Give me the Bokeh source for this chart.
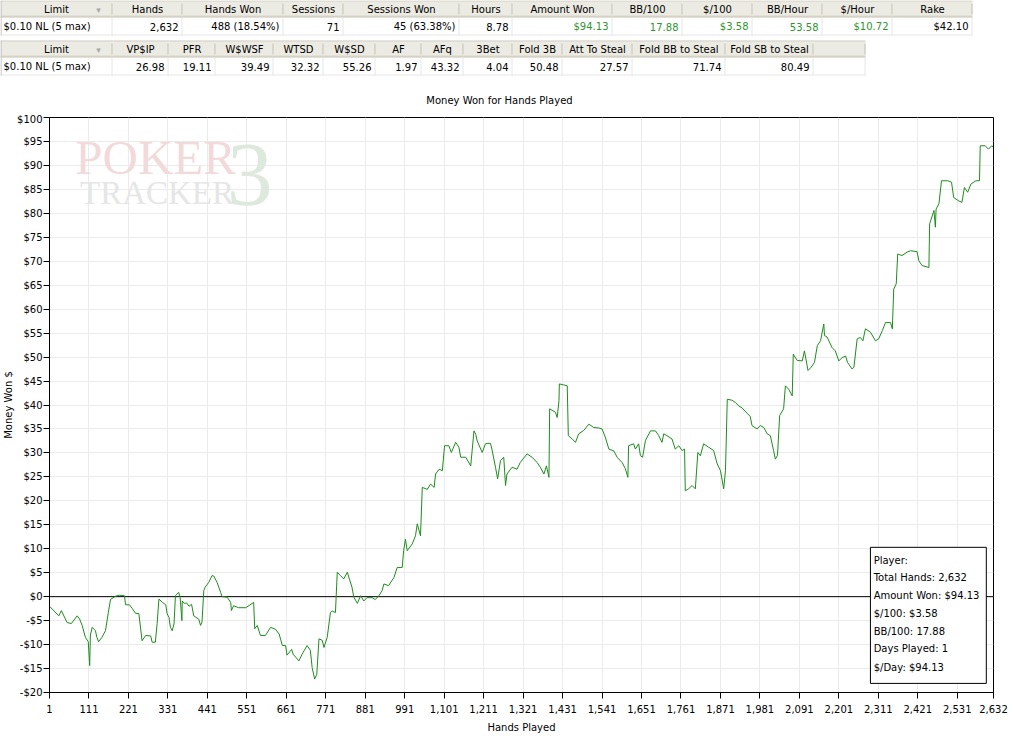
from bokeh.plotting import figure
from bokeh.models import Range1d, FixedTicker, BoxAnnotation, Label, Span
from bokeh.layouts import column
from bokeh.embed import file_html
from bokeh.resources import INLINE
from bokeh.core.properties import value

FONT = "DejaVu Sans"

# ---------------- data ----------------
t1_headers = ["Limit", "Hands", "Hands Won", "Sessions", "Sessions Won", "Hours",
              "Amount Won", "BB/100", "$/100", "BB/Hour", "$/Hour", "Rake"]
t1_values = ["$0.10 NL (5 max)", "2,632", "488 (18.54%)", "71", "45 (63.38%)", "8.78",
             "$94.13", "17.88", "$3.58", "53.58", "$10.72", "$42.10"]
t1_green = [False, False, False, False, False, False, True, True, True, True, True, False]

t2_headers = ["Limit", "VP$IP", "PFR", "W$WSF", "WTSD", "W$SD", "AF", "AFq", "3Bet",
              "Fold 3B", "Att To Steal", "Fold BB to Steal", "Fold SB to Steal", ""]
t2_values = ["$0.10 NL (5 max)", "26.98", "19.11", "39.49", "32.32", "55.26", "1.97", "43.32",
             "4.04", "50.48", "27.57", "71.74", "80.49", ""]

chart_title = "Money Won for Hands Played"
x_title = "Hands Played"
y_title = "Money Won $"

x_ticks = [1, 111, 221, 331, 441, 551, 661, 771, 881, 991, 1101, 1211, 1321, 1431, 1541,
           1651, 1761, 1871, 1981, 2091, 2201, 2311, 2421, 2531, 2632]
x_tick_labels = ["1", "111", "221", "331", "441", "551", "661", "771", "881", "991", "1,101",
                 "1,211", "1,321", "1,431", "1,541", "1,651", "1,761", "1,871", "1,981",
                 "2,091", "2,201", "2,311", "2,421", "2,531", "2,632"]
y_ticks = [-20, -15, -10, -5, 0, 5, 10, 15, 20, 25, 30, 35, 40, 45, 50, 55, 60, 65, 70, 75,
           80, 85, 90, 95, 100]
y_tick_labels = ["-$20", "-$15", "-$10", "-$5", "$0", "$5", "$10", "$15", "$20", "$25", "$30",
                 "$35", "$40", "$45", "$50", "$55", "$60", "$65", "$70", "$75", "$80", "$85",
                 "$90", "$95", "$100"]

summary_lines = ["Player:", "Total Hands: 2,632", "Amount Won: $94.13", "$/100: $3.58",
                 "BB/100: 17.88", "Days Played: 1", "$/Day: $94.13"]

hands = [1, 27, 34, 50, 62, 78, 85, 92, 101, 109, 113, 115, 120, 129, 133, 138, 147, 157, 165,
         171, 185, 196, 210, 213, 224, 232, 241, 250, 259, 269, 283, 287, 296, 301, 306, 316,
         325, 329, 334, 338, 343, 348, 352, 361, 365, 370, 371, 377, 383, 390, 397, 403, 417,
         422, 426, 431, 435, 445, 454, 459, 468, 478, 482, 496, 506, 508, 514, 528, 548, 570,
         573, 580, 589, 603, 617, 631, 641, 650, 659, 663, 676, 680, 696, 705, 719, 728, 733,
         740, 746, 752, 761, 766, 775, 784, 789, 798, 803, 812, 821, 831, 838, 844, 849, 859,
         868, 877, 886, 900, 909, 919, 928, 933, 946, 961, 970, 984, 988, 993, 998, 1012, 1021,
         1026, 1035, 1040, 1054, 1063, 1073, 1077, 1087, 1096, 1102, 1114, 1121, 1133, 1142,
         1147, 1161, 1175, 1184, 1189, 1193, 1207, 1216, 1223, 1230, 1234, 1244, 1250, 1258,
         1267, 1272, 1276, 1290, 1304, 1313, 1332, 1346, 1360, 1369, 1379, 1386, 1393, 1395,
         1411, 1416, 1421, 1422, 1434, 1444, 1447, 1458, 1467, 1476, 1490, 1504, 1518, 1532,
         1541, 1550, 1560, 1574, 1583, 1597, 1606, 1613, 1615, 1629, 1634, 1643, 1648, 1654,
         1662, 1676, 1690, 1699, 1708, 1713, 1722, 1736, 1745, 1755, 1764, 1771, 1773, 1782,
         1792, 1801, 1808, 1815, 1824, 1838, 1852, 1862, 1871, 1880, 1885, 1890, 1903, 1913,
         1922, 1931, 1945, 1954, 1959, 1973, 1982, 1992, 2001, 2010, 2019, 2024, 2030, 2036,
         2047, 2052, 2061, 2071, 2074, 2085, 2099, 2105, 2115, 2124, 2133, 2141, 2150, 2159,
         2161, 2168, 2182, 2191, 2201, 2210, 2220, 2225, 2238, 2243, 2252, 2261, 2268, 2275,
         2289, 2303, 2312, 2322, 2331, 2345, 2350, 2354, 2361, 2365, 2377, 2391, 2401, 2419,
         2424, 2433, 2452, 2454, 2466, 2470, 2472, 2480, 2487, 2505, 2515, 2521, 2535, 2544,
         2551, 2560, 2569, 2583, 2593, 2595, 2609, 2618, 2627, 2632]
money = [-2.0, -4.0, -2.9, -5.4, -5.6, -4.0, -4.7, -6.0, -8.5, -9.4, -14.4, -8.0, -6.4, -7.1,
         -8.5, -9.4, -8.5, -7.1, -3.3, -0.6, 0.1, 0.3, 0.2, -1.7, -1.7, -2.5, -3.5, -3.5, -9.2,
         -8.1, -8.2, -9.5, -9.5, -5.6, -0.5, -1.2, -1.7, -3.6, -4.3, -6.4, -7.1, -5.7, 0.2, 0.9,
         -0.1, -5.0, -0.9, -1.4, -1.3, -2.0, -1.6, -4.0, -4.7, -6.0, -5.3, 1.25, 2.0, 3.0, 4.4,
         4.3, 3.0, 0.9, 0.0, -0.1, -1.2, -2.9, -1.9, -2.3, -2.3, -1.2, -6.7, -6.0, -8.1, -8.1,
         -6.4, -6.8, -7.8, -10.2, -10.2, -12.2, -11.0, -12.0, -13.4, -12.0, -10.2, -11.2, -14.8,
         -17.2, -16.2, -8.8, -9.1, -10.6, -8.5, -3.3, -3.0, -3.3, 5.1, 4.4, 3.7, 5.1, 3.4, 2.0,
         -0.1, -1.4, 0.2, -0.9, -0.2, -0.2, -0.6, 0.2, 1.25, 2.65, 2.3, 4.0, 6.1, 6.1, 9.6,
         12.0, 9.6, 11.0, 12.7, 15.2, 12.7, 22.8, 22.4, 23.5, 22.8, 25.6, 26.6, 26.3, 31.5,
         31.5, 30.1, 32.2, 31.2, 29.1, 29.1, 27.3, 34.6, 33.9, 32.5, 30.1, 31.9, 32.0, 32.0,
         30.8, 27.0, 24.6, 28.4, 29.1, 23.2, 25.6, 27.0, 26.6, 28.0, 29.8, 29.1, 28.0, 27.0,
         25.6, 27.3, 24.9, 39.2, 38.5, 37.4, 40.9, 44.4, 44.2, 44.0, 33.6, 32.9, 32.2, 34.0,
         34.7, 36.0, 35.3, 35.2, 35.0, 33.3, 30.8, 30.4, 29.1, 28.0, 26.7, 24.9, 31.5, 31.9,
         30.8, 31.9, 29.4, 29.1, 32.6, 34.6, 34.6, 33.6, 32.2, 34.0, 33.6, 32.9, 30.8, 31.5,
         30.5, 30.8, 22.1, 22.5, 23.2, 22.5, 30.1, 29.4, 31.9, 31.2, 30.5, 27.7, 26.3, 22.5,
         26.3, 41.2, 41.0, 40.5, 39.8, 39.4, 38.3, 37.6, 35.7, 35.0, 35.7, 35.3, 34.0, 33.6,
         30.5, 28.7, 29.5, 37.8, 39.2, 44.0, 43.3, 41.9, 50.6, 49.3, 49.2, 51.3, 47.2, 47.9,
         48.9, 52.4, 53.4, 56.9, 54.5, 54.2, 52.0, 51.3, 49.2, 49.9, 50.2, 48.9, 47.5, 47.9,
         53.8, 54.1, 53.4, 55.9, 55.2, 53.4, 53.8, 55.5, 57.2, 57.2, 55.9, 64.2, 65.3, 71.5,
         71.2, 71.9, 72.2, 72.0, 70.1, 69.1, 68.7, 77.8, 80.6, 77.1, 80.9, 82.0, 86.8, 86.8,
         86.5, 83.3, 82.6, 82.3, 85.4, 84.4, 86.1, 86.8, 86.8, 94.1, 94.1, 93.4, 94.1, 93.8]

# ---------------- layout constants ----------------
T1_EDGES = [0, 112, 182, 283, 343, 459, 512, 612, 682, 752, 822, 892, 972]
T2_EDGES = [0, 112, 168, 215, 273, 323, 375, 421, 463, 512, 562, 632, 725, 813, 865]
GREEN_TXT = "#2f962f"
HEADER_BG = "#ecebe3"
W = 1013
TAB_H = 113

# ---------------- stats tables (+ chart title) ----------------
tab = figure(width=W, height=TAB_H, x_range=Range1d(0, W), y_range=Range1d(TAB_H, 0),
             output_backend="svg", toolbar_location=None, min_border=0,
             x_axis_location=None, y_axis_location=None, title=None)
tab.xgrid.visible = False
tab.ygrid.visible = False
tab.outline_line_color = None
tab.frame_align = False


def draw_table(edges, headers, values, greens, top):
    h_top, h_bot, d_bot = top, top + 17, top + 35
    n = len(headers)
    tab.quad(left=edges[:-1], right=edges[1:], top=[h_top] * n, bottom=[h_bot] * n,
             fill_color=HEADER_BG, line_color=None)
    tab.quad(left=edges[:-1], right=edges[1:], top=[h_bot] * n, bottom=[d_bot] * n,
             fill_color="white", line_color=None)
    tab.segment(x0=[edges[0]], x1=[edges[-1]], y0=[h_bot - 1.5], y1=[h_bot - 1.5],
                line_color="#d9d6c8", line_width=1)
    tab.segment(x0=[edges[0]], x1=[edges[-1]], y0=[h_bot - 0.5], y1=[h_bot - 0.5],
                line_color="#c7c3b3", line_width=1)
    tab.segment(x0=[edges[0]], x1=[edges[-1]], y0=[h_top + 0.5], y1=[h_top + 0.5],
                line_color="#d4d0c8", line_width=1)
    xs = [e - 0.5 for e in edges[1:]]
    tab.segment(x0=xs, x1=xs, y0=[h_top + 3] * len(xs), y1=[h_bot - 3] * len(xs),
                line_color="#c4c0b0", line_width=1)
    tab.segment(x0=xs, x1=xs, y0=[h_bot] * len(xs), y1=[d_bot] * len(xs),
                line_color="#e6e6e6", line_width=1)
    tab.segment(x0=[edges[0]], x1=[edges[-1]], y0=[d_bot - 0.5], y1=[d_bot - 0.5],
                line_color="#e6e6e6", line_width=1)
    tab.segment(x0=[0.5], x1=[0.5], y0=[h_top], y1=[d_bot], line_color="#b8b8b8", line_width=1)
    cx = [(a + b) / 2 for a, b in zip(edges[:-1], edges[1:])]
    cx[0] = 56
    tab.text(x=cx, y=[h_top + 9] * n, text=headers, text_font=value(FONT),
             text_font_size="10px", text_align="center", text_baseline="middle",
             text_color="black")
    tab.text(x=[edges[1] - 14], y=[h_top + 9], text=["\u25be"], text_font=value(FONT),
             text_font_size="9px", text_align="center", text_baseline="middle",
             text_color="#a8a8a8")
    tab.text(x=[edges[0] + 3], y=[h_bot + 9], text=[values[0]], text_font=value(FONT),
             text_font_size="10px", text_align="left", text_baseline="middle",
             text_color="black")
    rx, rt, rc = [], [], []
    for i in range(1, n):
        rx.append(edges[i + 1] - 4)
        rt.append(values[i])
        rc.append(GREEN_TXT if greens[i] else "black")
    tab.text(x=rx, y=[h_bot + 9] * len(rx), text=rt, text_color=rc, text_font=value(FONT),
             text_font_size="10px", text_align="right", text_baseline="middle")


draw_table(T1_EDGES, t1_headers, t1_values, t1_green, 0)
draw_table(T2_EDGES, t2_headers, t2_values, [False] * len(t2_headers), 40)
tab.text(x=[499], y=[100], text=[chart_title], text_font=value(FONT), text_font_size="10px",
         text_align="center", text_baseline="middle", text_color="black")

# ---------------- chart ----------------
p = figure(width=W, height=736 - TAB_H, x_range=Range1d(1, 2632), y_range=Range1d(-20, 100),
           output_backend="svg", toolbar_location=None, title=None,
           min_border_left=49, min_border_right=20, min_border_top=4, min_border_bottom=44)
p.frame_align = False
p.outline_line_color = "black"
p.outline_line_width = 1

xt = FixedTicker(ticks=x_ticks)
yt = FixedTicker(ticks=y_ticks)
p.xaxis.ticker = xt
p.yaxis.ticker = yt
p.xgrid.ticker = xt
p.ygrid.ticker = yt
p.xaxis.major_label_overrides = dict(zip(x_ticks, x_tick_labels))
p.yaxis.major_label_overrides = dict(zip(y_ticks, y_tick_labels))
for ax in (p.xaxis[0], p.yaxis[0]):
    ax.major_tick_in = 0
    ax.major_tick_out = 6
    ax.minor_tick_in = 0
    ax.minor_tick_out = 0
    ax.axis_line_color = "black"
    ax.major_tick_line_color = "black"
    ax.major_label_text_font = FONT
    ax.major_label_text_font_size = "10px"
    ax.major_label_text_color = "black"
    ax.axis_label_text_font = FONT
    ax.axis_label_text_font_size = "10px"
    ax.axis_label_text_font_style = "normal"
    ax.axis_label_text_color = "black"
p.xaxis.major_label_standoff = 6
p.yaxis.major_label_standoff = 1
p.xaxis.axis_label = x_title
p.xaxis.axis_label_standoff = 6
p.yaxis.axis_label = y_title
p.yaxis.axis_label_standoff = 0
p.xgrid.grid_line_color = "#ebebeb"
p.ygrid.grid_line_color = "#ebebeb"

# watermark
p.add_layout(Label(x=73, y=91.6, text="POKER", text_font="Liberation Serif",
                   text_font_size="49px", text_color="#f2dada", text_baseline="middle",
                   level="underlay"))
p.add_layout(Label(x=86, y=84.3, text="TRACKER", text_font="Liberation Serif",
                   text_font_size="33px", text_color="#e6e6e6", text_baseline="middle",
                   level="underlay"))
p.add_layout(Label(x=495, y=88.0, text="3", text_font="Liberation Serif",
                   text_font_size="92px", text_color="#dde9dd", text_baseline="middle",
                   level="underlay"))

p.add_layout(Span(location=0, dimension="width", line_color="black", line_width=1,
                  level="underlay"))
p.line(hands, money, line_color="#1e8c1e", line_width=1)

p.add_layout(BoxAnnotation(left=2289, right=2612, top=10.3, bottom=-18.1,
                           fill_color="white", fill_alpha=1.0, line_color="black",
                           line_alpha=1.0, line_width=1))
ys = [7.5, 3.9, 0.2, -3.5, -7.2, -10.9, -14.8]
for txt, yv in zip(summary_lines, ys):
    p.add_layout(Label(x=2298, y=yv, text=txt, text_font=FONT, text_font_size="10px",
                       text_color="black", text_baseline="middle"))

layout = column(tab, p, spacing=0)
open("out.html", "w").write(file_html(layout, INLINE))
